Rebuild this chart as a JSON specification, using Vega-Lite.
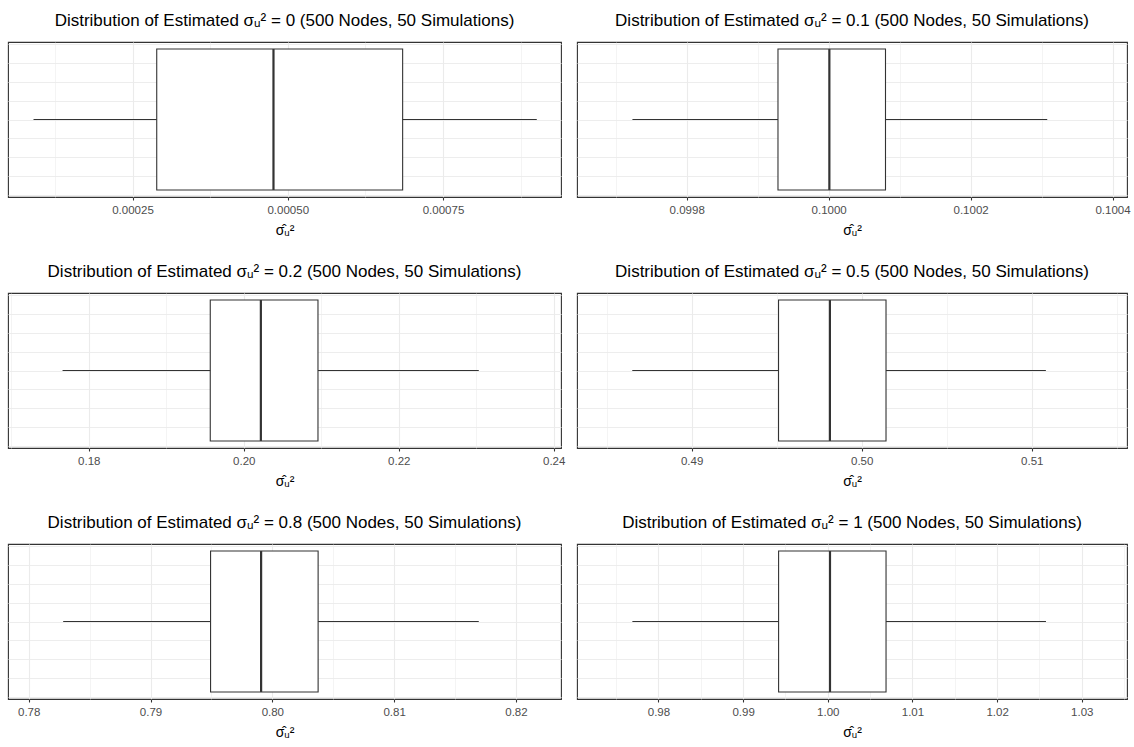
{
  "$schema": "https://vega.github.io/schema/vega-lite/v6.json",
  "background": "white",
  "padding": {"top": 11, "left": 7, "right": 6, "bottom": 0},
  "data": {"values": [
    {"panel": "0", "lower": 0.0000906, "q1": 0.000289, "median": 0.000477, "q3": 0.000685, "upper": 0.000901},
    {"panel": "0.1", "lower": 0.0997235, "q1": 0.0999286, "median": 0.100001, "q3": 0.1000801, "upper": 0.100308},
    {"panel": "0.2", "lower": 0.17662, "q1": 0.19568, "median": 0.20221, "q3": 0.20958, "upper": 0.23033},
    {"panel": "0.5", "lower": 0.48651, "q1": 0.49511, "median": 0.49813, "q3": 0.50143, "upper": 0.51083},
    {"panel": "0.8", "lower": 0.78283, "q1": 0.79493, "median": 0.79908, "q3": 0.80376, "upper": 0.81695},
    {"panel": "1", "lower": 0.97692, "q1": 0.99419, "median": 1.00026, "q3": 1.00688, "upper": 1.02577}
  ]},
  "config": {
    "font": "Liberation Sans",
    "view": {"stroke": "#333333", "strokeWidth": 1.1},
    "axis": {"gridColor": "#EBEBEB", "labelColor": "#4D4D4D", "labelFontSize": 11.5, "labelFont": "Liberation Sans", "tickColor": "#333333", "tickSize": 3, "tickWidth": 1.1, "domain": false, "titleFont": "Liberation Sans", "titleFontWeight": "normal", "titleFontSize": 14, "titleColor": "#000000", "labelPadding": 4, "titlePadding": 8, "labelOverlap": false, "labelFlush": false},
    "title": {"fontSize": 17, "fontWeight": "normal", "anchor": "middle", "offset": 12, "color": "#000000", "font": "Liberation Sans"}
  },
  "columns": 2,
  "spacing": {"row": 23, "column": 10},
  "concat": [
    {
      "title": "Distribution of Estimated \u03c3\u1d64\u00b2 = 0 (500 Nodes, 50 Simulations)",
      "width": 553, "height": 155,
      "transform": [{"filter": "datum.panel == '0'"}],
      "layer": [
        {"mark": {"type": "rule", "color": "#333333", "strokeWidth": 1.1},
         "encoding": {
           "x": {"field": "lower", "type": "quantitative", "scale": {"domain": [0.0000495, 0.00094], "nice": false, "zero": false},
                 "axis": {"title": "\u03c3\u0302\u1d64\u00b2", "values": [0.000125, 0.00025, 0.000375, 0.0005, 0.000625, 0.00075, 0.000875],
                          "labelExpr": "indexof([0.00025,0.0005,0.00075], datum.value) >= 0 ? format(datum.value, '.5f') : ''",
                          "tickOpacity": {"condition": {"test": "indexof([0.00025,0.0005,0.00075], datum.value) >= 0", "value": 1}, "value": 0},
                          "gridWidth": {"condition": {"test": "indexof([0.00025,0.0005,0.00075], datum.value) >= 0", "value": 1.1}, "value": 0.55}}},
           "x2": {"field": "upper"},
           "y": {"datum": 0, "type": "quantitative", "scale": {"domain": [-0.4125, 0.4125], "nice": false, "zero": false},
                 "axis": {"grid": true, "gridWidth": 0.9, "labels": false, "ticks": false, "domain": false, "title": null, "tickCount": 8}}
         }},
        {"mark": {"type": "rect", "fill": "white", "stroke": "#333333", "strokeWidth": 1.1},
         "encoding": {"x": {"field": "q1", "type": "quantitative"}, "x2": {"field": "q3"}, "y": {"datum": -0.375, "type": "quantitative"}, "y2": {"datum": 0.375}}},
        {"mark": {"type": "rule", "color": "#333333", "strokeWidth": 2.2},
         "encoding": {"x": {"field": "median", "type": "quantitative"}, "y": {"datum": -0.375, "type": "quantitative"}, "y2": {"datum": 0.375}}}
      ]
    },
    {
      "title": "Distribution of Estimated \u03c3\u1d64\u00b2 = 0.1 (500 Nodes, 50 Simulations)",
      "width": 550, "height": 155,
      "transform": [{"filter": "datum.panel == '0.1'"}],
      "layer": [
        {"mark": {"type": "rule", "color": "#333333", "strokeWidth": 1.1},
         "encoding": {
           "x": {"field": "lower", "type": "quantitative", "scale": {"domain": [0.0996454, 0.1004204], "nice": false, "zero": false},
                 "axis": {"title": "\u03c3\u0302\u1d64\u00b2", "values": [0.0997, 0.0998, 0.0999, 0.1, 0.1001, 0.1002, 0.1003, 0.1004],
                          "labelExpr": "indexof([0.0998,0.1,0.1002,0.1004], datum.value) >= 0 ? format(datum.value, '.4f') : ''",
                          "tickOpacity": {"condition": {"test": "indexof([0.0998,0.1,0.1002,0.1004], datum.value) >= 0", "value": 1}, "value": 0},
                          "gridWidth": {"condition": {"test": "indexof([0.0998,0.1,0.1002,0.1004], datum.value) >= 0", "value": 1.1}, "value": 0.55}}},
           "x2": {"field": "upper"},
           "y": {"datum": 0, "type": "quantitative", "scale": {"domain": [-0.4125, 0.4125], "nice": false, "zero": false},
                 "axis": {"grid": true, "gridWidth": 0.9, "labels": false, "ticks": false, "domain": false, "title": null, "tickCount": 8}}
         }},
        {"mark": {"type": "rect", "fill": "white", "stroke": "#333333", "strokeWidth": 1.1},
         "encoding": {"x": {"field": "q1", "type": "quantitative"}, "x2": {"field": "q3"}, "y": {"datum": -0.375, "type": "quantitative"}, "y2": {"datum": 0.375}}},
        {"mark": {"type": "rule", "color": "#333333", "strokeWidth": 2.2},
         "encoding": {"x": {"field": "median", "type": "quantitative"}, "y": {"datum": -0.375, "type": "quantitative"}, "y2": {"datum": 0.375}}}
      ]
    },
    {
      "title": "Distribution of Estimated \u03c3\u1d64\u00b2 = 0.2 (500 Nodes, 50 Simulations)",
      "width": 553, "height": 155,
      "transform": [{"filter": "datum.panel == '0.2'"}],
      "layer": [
        {"mark": {"type": "rule", "color": "#333333", "strokeWidth": 1.1},
         "encoding": {
           "x": {"field": "lower", "type": "quantitative", "scale": {"domain": [0.16958, 0.24094], "nice": false, "zero": false},
                 "axis": {"title": "\u03c3\u0302\u1d64\u00b2", "values": [0.17, 0.18, 0.19, 0.2, 0.21, 0.22, 0.23, 0.24],
                          "labelExpr": "indexof([0.18,0.2,0.22,0.24], datum.value) >= 0 ? format(datum.value, '.2f') : ''",
                          "tickOpacity": {"condition": {"test": "indexof([0.18,0.2,0.22,0.24], datum.value) >= 0", "value": 1}, "value": 0},
                          "gridWidth": {"condition": {"test": "indexof([0.18,0.2,0.22,0.24], datum.value) >= 0", "value": 1.1}, "value": 0.55}}},
           "x2": {"field": "upper"},
           "y": {"datum": 0, "type": "quantitative", "scale": {"domain": [-0.4125, 0.4125], "nice": false, "zero": false},
                 "axis": {"grid": true, "gridWidth": 0.9, "labels": false, "ticks": false, "domain": false, "title": null, "tickCount": 8}}
         }},
        {"mark": {"type": "rect", "fill": "white", "stroke": "#333333", "strokeWidth": 1.1},
         "encoding": {"x": {"field": "q1", "type": "quantitative"}, "x2": {"field": "q3"}, "y": {"datum": -0.375, "type": "quantitative"}, "y2": {"datum": 0.375}}},
        {"mark": {"type": "rule", "color": "#333333", "strokeWidth": 2.2},
         "encoding": {"x": {"field": "median", "type": "quantitative"}, "y": {"datum": -0.375, "type": "quantitative"}, "y2": {"datum": 0.375}}}
      ]
    },
    {
      "title": "Distribution of Estimated \u03c3\u1d64\u00b2 = 0.5 (500 Nodes, 50 Simulations)",
      "width": 550, "height": 155,
      "transform": [{"filter": "datum.panel == '0.5'"}],
      "layer": [
        {"mark": {"type": "rule", "color": "#333333", "strokeWidth": 1.1},
         "encoding": {
           "x": {"field": "lower", "type": "quantitative", "scale": {"domain": [0.48326, 0.5156], "nice": false, "zero": false},
                 "axis": {"title": "\u03c3\u0302\u1d64\u00b2", "values": [0.485, 0.49, 0.495, 0.5, 0.505, 0.51, 0.515],
                          "labelExpr": "indexof([0.49,0.5,0.51], datum.value) >= 0 ? format(datum.value, '.2f') : ''",
                          "tickOpacity": {"condition": {"test": "indexof([0.49,0.5,0.51], datum.value) >= 0", "value": 1}, "value": 0},
                          "gridWidth": {"condition": {"test": "indexof([0.49,0.5,0.51], datum.value) >= 0", "value": 1.1}, "value": 0.55}}},
           "x2": {"field": "upper"},
           "y": {"datum": 0, "type": "quantitative", "scale": {"domain": [-0.4125, 0.4125], "nice": false, "zero": false},
                 "axis": {"grid": true, "gridWidth": 0.9, "labels": false, "ticks": false, "domain": false, "title": null, "tickCount": 8}}
         }},
        {"mark": {"type": "rect", "fill": "white", "stroke": "#333333", "strokeWidth": 1.1},
         "encoding": {"x": {"field": "q1", "type": "quantitative"}, "x2": {"field": "q3"}, "y": {"datum": -0.375, "type": "quantitative"}, "y2": {"datum": 0.375}}},
        {"mark": {"type": "rule", "color": "#333333", "strokeWidth": 2.2},
         "encoding": {"x": {"field": "median", "type": "quantitative"}, "y": {"datum": -0.375, "type": "quantitative"}, "y2": {"datum": 0.375}}}
      ]
    },
    {
      "title": "Distribution of Estimated \u03c3\u1d64\u00b2 = 0.8 (500 Nodes, 50 Simulations)",
      "width": 553, "height": 155,
      "transform": [{"filter": "datum.panel == '0.8'"}],
      "layer": [
        {"mark": {"type": "rule", "color": "#333333", "strokeWidth": 1.1},
         "encoding": {
           "x": {"field": "lower", "type": "quantitative", "scale": {"domain": [0.7783, 0.8237], "nice": false, "zero": false},
                 "axis": {"title": "\u03c3\u0302\u1d64\u00b2", "values": [0.78, 0.785, 0.79, 0.795, 0.8, 0.805, 0.81, 0.815, 0.82],
                          "labelExpr": "indexof([0.78,0.79,0.8,0.81,0.82], datum.value) >= 0 ? format(datum.value, '.2f') : ''",
                          "tickOpacity": {"condition": {"test": "indexof([0.78,0.79,0.8,0.81,0.82], datum.value) >= 0", "value": 1}, "value": 0},
                          "gridWidth": {"condition": {"test": "indexof([0.78,0.79,0.8,0.81,0.82], datum.value) >= 0", "value": 1.1}, "value": 0.55}}},
           "x2": {"field": "upper"},
           "y": {"datum": 0, "type": "quantitative", "scale": {"domain": [-0.4125, 0.4125], "nice": false, "zero": false},
                 "axis": {"grid": true, "gridWidth": 0.9, "labels": false, "ticks": false, "domain": false, "title": null, "tickCount": 8}}
         }},
        {"mark": {"type": "rect", "fill": "white", "stroke": "#333333", "strokeWidth": 1.1},
         "encoding": {"x": {"field": "q1", "type": "quantitative"}, "x2": {"field": "q3"}, "y": {"datum": -0.375, "type": "quantitative"}, "y2": {"datum": 0.375}}},
        {"mark": {"type": "rule", "color": "#333333", "strokeWidth": 2.2},
         "encoding": {"x": {"field": "median", "type": "quantitative"}, "y": {"datum": -0.375, "type": "quantitative"}, "y2": {"datum": 0.375}}}
      ]
    },
    {
      "title": "Distribution of Estimated \u03c3\u1d64\u00b2 = 1 (500 Nodes, 50 Simulations)",
      "width": 550, "height": 155,
      "transform": [{"filter": "datum.panel == '1'"}],
      "layer": [
        {"mark": {"type": "rule", "color": "#333333", "strokeWidth": 1.1},
         "encoding": {
           "x": {"field": "lower", "type": "quantitative", "scale": {"domain": [0.97038, 1.03534], "nice": false, "zero": false},
                 "axis": {"title": "\u03c3\u0302\u1d64\u00b2", "values": [0.975, 0.98, 0.985, 0.99, 0.995, 1, 1.005, 1.01, 1.015, 1.02, 1.025, 1.03, 1.035],
                          "labelExpr": "indexof([0.98,0.99,1,1.01,1.02,1.03], datum.value) >= 0 ? format(datum.value, '.2f') : ''",
                          "tickOpacity": {"condition": {"test": "indexof([0.98,0.99,1,1.01,1.02,1.03], datum.value) >= 0", "value": 1}, "value": 0},
                          "gridWidth": {"condition": {"test": "indexof([0.98,0.99,1,1.01,1.02,1.03], datum.value) >= 0", "value": 1.1}, "value": 0.55}}},
           "x2": {"field": "upper"},
           "y": {"datum": 0, "type": "quantitative", "scale": {"domain": [-0.4125, 0.4125], "nice": false, "zero": false},
                 "axis": {"grid": true, "gridWidth": 0.9, "labels": false, "ticks": false, "domain": false, "title": null, "tickCount": 8}}
         }},
        {"mark": {"type": "rect", "fill": "white", "stroke": "#333333", "strokeWidth": 1.1},
         "encoding": {"x": {"field": "q1", "type": "quantitative"}, "x2": {"field": "q3"}, "y": {"datum": -0.375, "type": "quantitative"}, "y2": {"datum": 0.375}}},
        {"mark": {"type": "rule", "color": "#333333", "strokeWidth": 2.2},
         "encoding": {"x": {"field": "median", "type": "quantitative"}, "y": {"datum": -0.375, "type": "quantitative"}, "y2": {"datum": 0.375}}}
      ]
    }
  ]
}
